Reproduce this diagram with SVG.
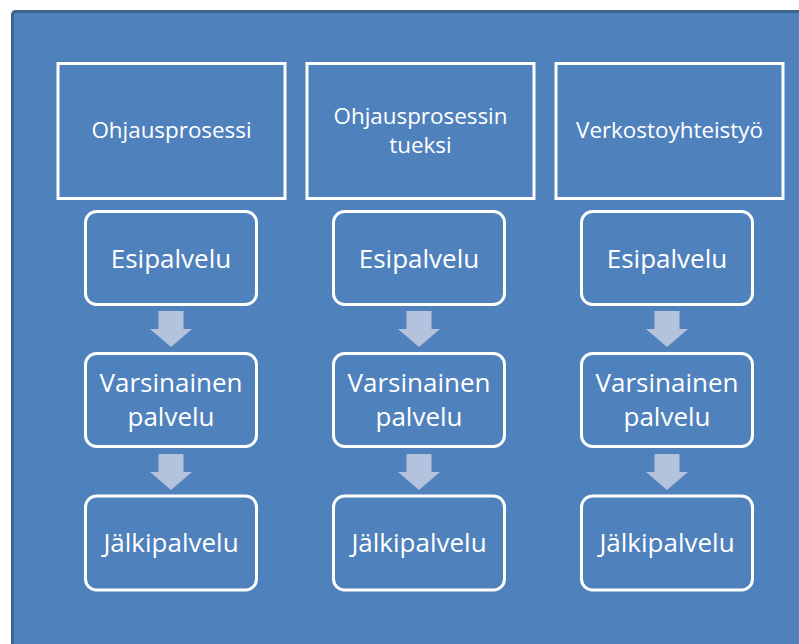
<svg xmlns="http://www.w3.org/2000/svg" width="799" height="644" viewBox="0 0 799 644">
<style>
.panel{fill:#4F81BD;stroke:#3D6391;stroke-width:3}
.head{fill:none;stroke:#FFFFFF;stroke-width:3}
.step{fill:none;stroke:#FFFFFF;stroke-width:3}
.arrow{fill:#B3C3DE}
text{font-family:"Open Sans","Liberation Sans",sans-serif;fill:#FFFFFF;text-anchor:middle}
.t1{font-size:22.4px}
.t2{font-size:26px}
</style>
<rect x="0" y="0" width="799" height="644" fill="#FFFFFF"/>
<rect class="panel" x="12.5" y="11.5" width="800" height="650" rx="3"/>
<g id="connectors">
<path class="arrow" d="M158.5 311H183.5V329H192L171 347L150 329H158.5Z"/>
<path class="arrow" d="M158.5 454H183.5V472H192L171 490L150 472H158.5Z"/>
<path class="arrow" d="M406.5 311H431.5V329H440L419 347L398 329H406.5Z"/>
<path class="arrow" d="M406.5 454H431.5V472H440L419 490L398 472H406.5Z"/>
<path class="arrow" d="M654.5 311H679.5V329H688L667 347L646 329H654.5Z"/>
<path class="arrow" d="M654.5 454H679.5V472H688L667 490L646 472H654.5Z"/>
</g>
<g id="head1">
<rect class="head" x="58" y="63.5" width="227" height="135"/>
<text class="t1" x="171.5" y="138">Ohjausprosessi</text>
</g>
<g id="head2">
<rect class="head" x="307" y="63.5" width="227" height="135"/>
<text class="t1" x="420.5" y="124">Ohjausprosessin</text>
<text class="t1" x="420.5" y="153">tueksi</text>
</g>
<g id="head3">
<rect class="head" x="556" y="63.5" width="227" height="135"/>
<text class="t1" x="669.5" y="138">Verkostoyhteistyö</text>
</g>
<g id="c1-esi">
<rect class="step" x="85.5" y="211.5" width="171" height="93" rx="11"/>
<text class="t2" x="171" y="268">Esipalvelu</text>
</g>
<g id="c1-var">
<rect class="step" x="85.5" y="353.5" width="171" height="93" rx="11"/>
<text class="t2" x="171" y="392">Varsinainen</text>
<text class="t2" x="171" y="426">palvelu</text>
</g>
<g id="c1-jal">
<rect class="step" x="85.5" y="496" width="171" height="94" rx="11"/>
<text class="t2" x="171" y="552">Jälkipalvelu</text>
</g>
<g id="c2-esi">
<rect class="step" x="333.5" y="211.5" width="171" height="93" rx="11"/>
<text class="t2" x="419" y="268">Esipalvelu</text>
</g>
<g id="c2-var">
<rect class="step" x="333.5" y="353.5" width="171" height="93" rx="11"/>
<text class="t2" x="419" y="392">Varsinainen</text>
<text class="t2" x="419" y="426">palvelu</text>
</g>
<g id="c2-jal">
<rect class="step" x="333.5" y="496" width="171" height="94" rx="11"/>
<text class="t2" x="419" y="552">Jälkipalvelu</text>
</g>
<g id="c3-esi">
<rect class="step" x="581.5" y="211.5" width="171" height="93" rx="11"/>
<text class="t2" x="667" y="268">Esipalvelu</text>
</g>
<g id="c3-var">
<rect class="step" x="581.5" y="353.5" width="171" height="93" rx="11"/>
<text class="t2" x="667" y="392">Varsinainen</text>
<text class="t2" x="667" y="426">palvelu</text>
</g>
<g id="c3-jal">
<rect class="step" x="581.5" y="496" width="171" height="94" rx="11"/>
<text class="t2" x="667" y="552">Jälkipalvelu</text>
</g>
</svg>
